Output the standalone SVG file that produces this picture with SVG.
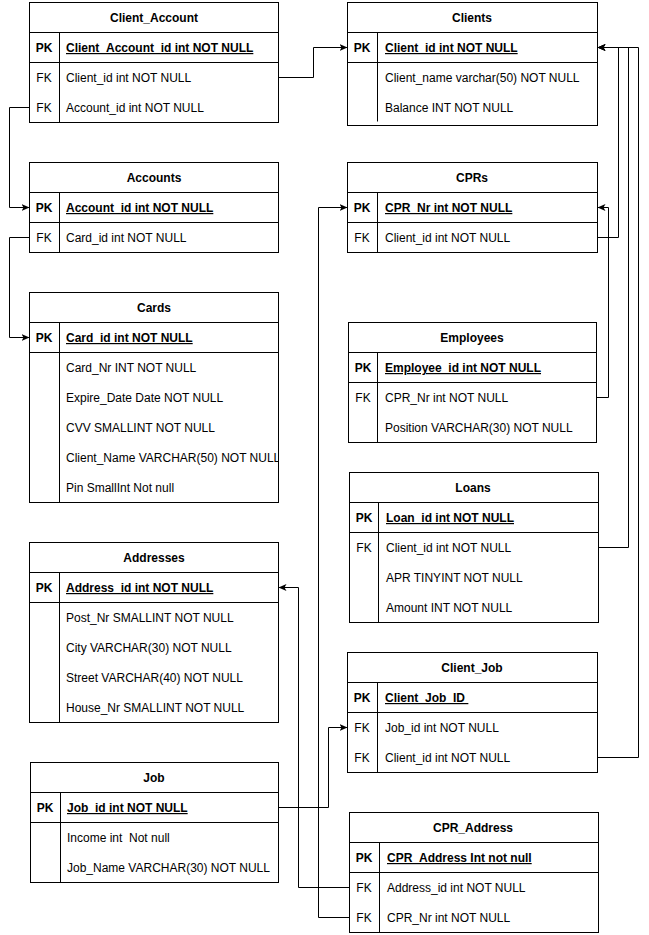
<svg xmlns="http://www.w3.org/2000/svg" width="649" height="935" viewBox="0 0 649 935">
<defs>
<style>
.box{fill:#fff;stroke:#000;stroke-width:1}
.ln{stroke:#000;stroke-width:1;fill:none}
text{font-family:"Liberation Sans",Arial,sans-serif;font-size:12px;fill:#000;white-space:pre}
.h{font-weight:bold;text-anchor:middle}
.k{text-anchor:middle}
.kb{text-anchor:middle;font-weight:bold}
.pk{font-weight:bold;text-decoration:underline}
.c{stroke:#000;stroke-width:1;fill:none;marker-end:url(#arr)}
</style>
<marker id="arr" markerUnits="userSpaceOnUse" markerWidth="10" markerHeight="10" refX="8" refY="4" orient="auto">
<path d="M0,0.5 L8,4 L0,7.5 L2,4 z" fill="#000"/>
</marker>
<clipPath id="cardsclip"><rect x="29" y="292" width="250" height="211"/></clipPath>
</defs>
<rect width="649" height="935" fill="#fff"/>

<g id="client_account">
<rect class="box" x="29.5" y="2.5" width="249" height="120"/>
<path class="ln" d="M29.5,32.5H278.5M29.5,62.5H278.5M59.5,32.5V122.5"/>
<text class="h" x="154" y="22">Client_Account</text>
<text class="kb" x="44" y="52">PK</text><text class="pk" x="66" y="52">Client_Account_id int NOT NULL</text>
<text class="k" x="44" y="82">FK</text><text x="66" y="82">Client_id int NOT NULL</text>
<text class="k" x="44" y="112">FK</text><text x="66" y="112">Account_id int NOT NULL</text>
</g>

<g id="clients">
<rect class="box" x="347.5" y="2.5" width="250" height="123"/>
<path class="ln" d="M347.5,32.5H597.5M347.5,62.5H597.5M377.5,32.5V121.5"/>
<text class="h" x="472" y="22">Clients</text>
<text class="kb" x="362" y="52">PK</text><text class="pk" x="385" y="52">Client_id int NOT NULL</text>
<text x="385" y="82">Client_name varchar(50) NOT NULL</text>
<text x="385" y="112">Balance INT NOT NULL</text>
</g>

<g id="accounts">
<rect class="box" x="29.5" y="162.5" width="249" height="90"/>
<path class="ln" d="M29.5,192.5H278.5M29.5,222.5H278.5M59.5,192.5V252.5"/>
<text class="h" x="154" y="182">Accounts</text>
<text class="kb" x="44" y="212">PK</text><text class="pk" x="66" y="212">Account_id int NOT NULL</text>
<text class="k" x="44" y="242">FK</text><text x="66" y="242">Card_id int NOT NULL</text>
</g>

<g id="cards">
<rect class="box" x="29.5" y="292.5" width="249" height="210"/>
<path class="ln" d="M29.5,322.5H278.5M29.5,352.5H278.5M59.5,322.5V502.5"/>
<text class="h" x="154" y="312">Cards</text>
<text class="kb" x="44" y="342">PK</text><text class="pk" x="66" y="342">Card_id int NOT NULL</text>
<text x="66" y="372">Card_Nr INT NOT NULL</text>
<text x="66" y="402">Expire_Date Date NOT NULL</text>
<text x="66" y="432">CVV SMALLINT NOT NULL</text>
<text x="66" y="462" clip-path="url(#cardsclip)">Client_Name VARCHAR(50) NOT NULL</text>
<text x="66" y="492">Pin SmallInt Not null</text>
</g>

<g id="addresses">
<rect class="box" x="29.5" y="542.5" width="249" height="180"/>
<path class="ln" d="M29.5,572.5H278.5M29.5,602.5H278.5M59.5,572.5V722.5"/>
<text class="h" x="154" y="562">Addresses</text>
<text class="kb" x="44" y="592">PK</text><text class="pk" x="66" y="592">Address_id int NOT NULL</text>
<text x="66" y="622">Post_Nr SMALLINT NOT NULL</text>
<text x="66" y="652">City VARCHAR(30) NOT NULL</text>
<text x="66" y="682">Street VARCHAR(40) NOT NULL</text>
<text x="66" y="712">House_Nr SMALLINT NOT NULL</text>
</g>

<g id="job">
<rect class="box" x="30.5" y="762.5" width="248" height="120"/>
<path class="ln" d="M30.5,792.5H278.5M30.5,822.5H278.5M60.5,792.5V882.5"/>
<text class="h" x="154" y="782">Job</text>
<text class="kb" x="45" y="812">PK</text><text class="pk" x="67" y="812">Job_id int NOT NULL</text>
<text x="67" y="842" xml:space="preserve">Income int  Not null</text>
<text x="67" y="872">Job_Name VARCHAR(30) NOT NULL</text>
</g>

<g id="cprs">
<rect class="box" x="347.5" y="162.5" width="250" height="90"/>
<path class="ln" d="M347.5,192.5H597.5M347.5,222.5H597.5M377.5,192.5V252.5"/>
<text class="h" x="472" y="182">CPRs</text>
<text class="kb" x="362" y="212">PK</text><text class="pk" x="385" y="212">CPR_Nr int NOT NULL</text>
<text class="k" x="362" y="242">FK</text><text x="385" y="242">Client_id int NOT NULL</text>
</g>

<g id="employees">
<rect class="box" x="348.5" y="322.5" width="248" height="120"/>
<path class="ln" d="M348.5,352.5H596.5M348.5,382.5H596.5M377.5,352.5V442.5"/>
<text class="h" x="472" y="342">Employees</text>
<text class="kb" x="363" y="372">PK</text><text class="pk" x="385" y="372">Employee_id int NOT NULL</text>
<text class="k" x="363" y="402">FK</text><text x="385" y="402">CPR_Nr int NOT NULL</text>
<text x="385" y="432">Position VARCHAR(30) NOT NULL</text>
</g>

<g id="loans">
<rect class="box" x="349.5" y="472.5" width="249" height="150"/>
<path class="ln" d="M349.5,502.5H598.5M349.5,532.5H598.5M378.5,502.5V622.5"/>
<text class="h" x="473" y="492">Loans</text>
<text class="kb" x="364" y="522">PK</text><text class="pk" x="386" y="522">Loan_id int NOT NULL</text>
<text class="k" x="364" y="552">FK</text><text x="386" y="552">Client_id int NOT NULL</text>
<text x="386" y="582">APR TINYINT NOT NULL</text>
<text x="386" y="612">Amount INT NOT NULL</text>
</g>

<g id="client_job">
<rect class="box" x="347.5" y="652.5" width="250" height="120"/>
<path class="ln" d="M347.5,682.5H597.5M347.5,712.5H597.5M377.5,682.5V772.5"/>
<text class="h" x="472" y="672">Client_Job</text>
<text class="kb" x="362" y="702">PK</text><text class="pk" x="385" y="702" xml:space="preserve">Client_Job_ID </text>
<text class="k" x="362" y="732">FK</text><text x="385" y="732">Job_id int NOT NULL</text>
<text class="k" x="362" y="762">FK</text><text x="385" y="762">Client_id int NOT NULL</text>
</g>

<g id="cpr_address">
<rect class="box" x="349.5" y="812.5" width="249" height="120"/>
<path class="ln" d="M349.5,842.5H598.5M349.5,872.5H598.5M379.5,842.5V932.5"/>
<text class="h" x="473" y="832">CPR_Address</text>
<text class="kb" x="364" y="862">PK</text><text class="pk" x="387" y="862">CPR_Address Int not null</text>
<text class="k" x="364" y="892">FK</text><text x="387" y="892">Address_id int NOT NULL</text>
<text class="k" x="364" y="922">FK</text><text x="387" y="922">CPR_Nr int NOT NULL</text>
</g>

<g id="connectors">
<path class="c" d="M278.5,77.5H313.5V47.5H347.5"/>
<path class="c" d="M29.5,107.5H9.5V207.5H29.5"/>
<path class="c" d="M29.5,237.5H9.5V337.5H29.5"/>
<path class="c" d="M597.5,237.5H618.5V47.5H597.5"/>
<path class="c" d="M596.5,397.5H608.5V207.5H597.5"/>
<path class="c" d="M598.5,547.5H628.5V47.5H597.5"/>
<path class="c" d="M597.5,757.5H638.5V47.5H597.5"/>
<path class="c" d="M278.5,807.5H328.5V727.5H347.5"/>
<path class="c" d="M349.5,887.5H298.5V587.5H278.5"/>
<path class="c" d="M349.5,917.5H318.5V207.5H347.5"/>
</g>
</svg>
